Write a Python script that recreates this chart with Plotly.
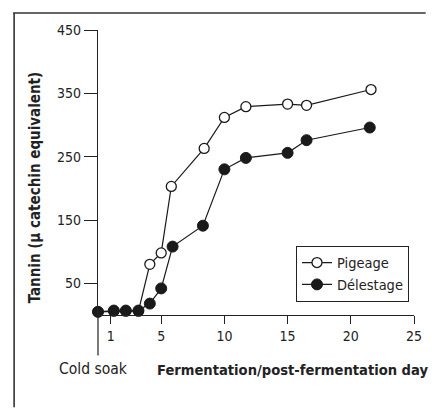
import plotly.graph_objects as go

# Data
days_pigeage = [0, 1.25, 2.2, 3.2, 4.1, 5.0, 5.8, 8.4, 10.0, 11.7, 15.0, 16.5, 21.6]
tannin_pigeage = [5, 6, 6, 6, 80, 98, 203, 263, 312, 329, 333, 331, 356]
days_delestage = [0, 1.25, 2.2, 3.2, 4.1, 5.0, 5.9, 8.3, 10.0, 11.7, 15.0, 16.5, 21.5]
tannin_delestage = [5, 7, 7, 7, 18, 42, 108, 141, 230, 248, 256, 276, 296]
x_ticks = [1, 5, 10, 15, 20, 25]
y_ticks = [50, 150, 250, 350, 450]

FONT = "Liberation Sans Narrow, DejaVu Sans Condensed, Roboto Condensed, Arial Narrow, sans-serif"

fig = go.Figure()
fig.add_trace(go.Scatter(
    x=days_pigeage, y=tannin_pigeage, mode="lines+markers", name="Pigeage",
    line=dict(color="#1a1a1a", width=1.2),
    marker=dict(symbol="circle", size=10, color="white", line=dict(color="#1a1a1a", width=1.3)),
    cliponaxis=False,
))
fig.add_trace(go.Scatter(
    x=days_delestage, y=tannin_delestage, mode="lines+markers", name="Délestage",
    line=dict(color="#1a1a1a", width=1.2),
    marker=dict(symbol="circle", size=11, color="#1a1a1a", line=dict(color="#1a1a1a", width=1)),
    cliponaxis=False,
))

L, R, T, B = 98, 12, 30, 92.5
W, H = 434, 408
pw, ph = W - L - R, H - T - B

def px(x):
    return (x - L) / pw

def py(y):
    return (H - B - y) / ph

fig.update_layout(
    width=W, height=H,
    margin=dict(l=L, r=R, t=T, b=B, pad=0),
    paper_bgcolor="white", plot_bgcolor="white",
    font=dict(family=FONT, size=14, color="#222"),
    showlegend=True,
    legend=dict(
        x=px(301), y=py(246), xanchor="left", yanchor="top",
        bordercolor="#222", borderwidth=1, bgcolor="white",
        font=dict(family=FONT, size=14.5, color="#222"),
        tracegroupgap=0,
    ),
    xaxis=dict(
        range=[0, 25], tickvals=x_ticks, ticks="outside", ticklen=8, tickwidth=1.2,
        tickcolor="#222", showline=True, linecolor="#222", linewidth=1.2,
        showgrid=False, zeroline=False, tickfont=dict(family=FONT, size=14, color="#222"),
    ),
    yaxis=dict(
        range=[0, 450], tickvals=y_ticks, ticks="outside", ticklen=13, tickwidth=1.2,
        tickcolor="#222", showline=True, linecolor="#222", linewidth=1.2,
        showgrid=False, zeroline=False, tickfont=dict(family=FONT, size=14, color="#222"),
    ),
)

# extension of y axis below x axis
fig.add_shape(type="line", xref="paper", yref="paper", x0=0, x1=0, y0=0, y1=py(356),
              line=dict(color="#222", width=1.2))
# outer frame (top and left edges)
fig.add_shape(type="line", xref="paper", yref="paper", x0=px(11), x1=px(434), y0=py(13), y1=py(13),
              line=dict(color="#333", width=1.6))
fig.add_shape(type="line", xref="paper", yref="paper", x0=px(12), x1=px(12), y0=py(13), y1=py(408),
              line=dict(color="#333", width=1.6))

fig.add_annotation(text="Cold soak", xref="paper", yref="paper", x=px(93.5), y=py(370),
                   showarrow=False, xanchor="center", yanchor="middle",
                   font=dict(family=FONT, size=15.5, color="#222"))
fig.add_annotation(text="<b>Fermentation/post-fermentation day</b>", xref="paper", yref="paper",
                   x=px(297), y=py(370), showarrow=False, xanchor="center", yanchor="middle",
                   font=dict(family=FONT, size=14.6, color="#222"))
fig.add_annotation(text="<b>Tannin (μ catechin equivalent)</b>", xref="paper", yref="paper",
                   x=px(33), y=py(188), showarrow=False, xanchor="center", yanchor="middle",
                   textangle=-90, font=dict(family=FONT, size=15, color="#222"))

fig.write_html("out.html", config={"displayModeBar": False},
               post_script="document.body.style.margin='0';document.body.style.overflow='hidden';")
